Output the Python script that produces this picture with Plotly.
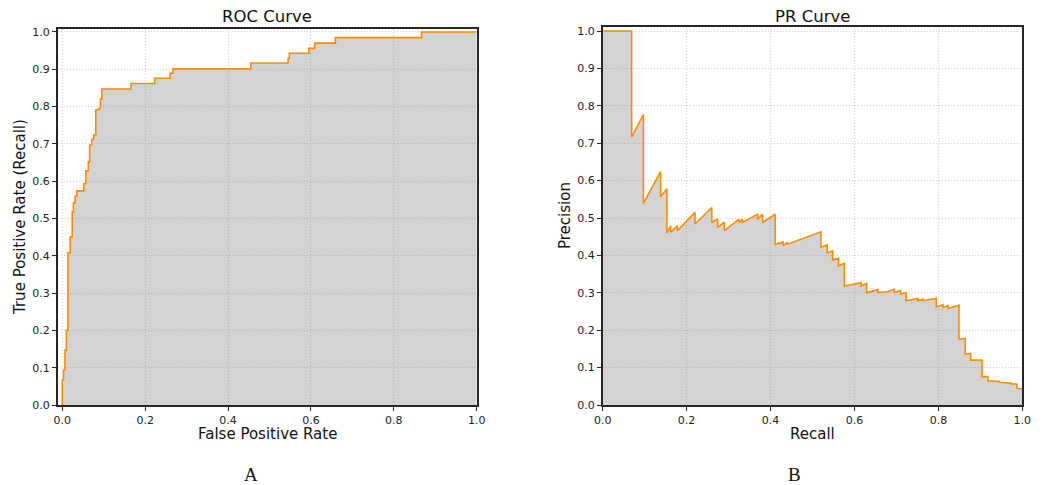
import plotly.graph_objects as go

W, H = 1046, 485

# ROC curve staircase corners (FPR, TPR)
roc_fpr = [0.0, 0.0, 0.003, 0.0065, 0.010, 0.0137, 0.0137, 0.019, 0.024, 0.027, 0.031, 0.035,
           0.052, 0.057, 0.063, 0.066, 0.071, 0.076, 0.081, 0.088, 0.092, 0.0955, 0.166,
           0.223, 0.260, 0.267, 0.455, 0.545, 0.548, 0.595, 0.609, 0.659, 0.867, 1.0]
roc_tpr = [0.0, 0.067, 0.094, 0.147, 0.20, 0.255, 0.408, 0.45, 0.518, 0.542, 0.56, 0.574,
           0.594, 0.628, 0.652, 0.697, 0.712, 0.724, 0.791, 0.795, 0.820, 0.847, 0.862,
           0.876, 0.889, 0.901, 0.917, 0.929, 0.943, 0.956, 0.970, 0.985, 1.0, 1.0]

# PR curve vertices (Recall, Precision)
pr_recall = [0.0, 0.069, 0.069, 0.097, 0.097, 0.138, 0.138, 0.153, 0.153, 0.162, 0.162,
             0.178, 0.178, 0.220, 0.220, 0.260, 0.260, 0.274, 0.274, 0.290, 0.290,
             0.325, 0.325, 0.333, 0.333, 0.369, 0.369, 0.381, 0.381, 0.411, 0.411,
             0.421, 0.421, 0.430, 0.430, 0.440, 0.440, 0.520, 0.520, 0.535, 0.535,
             0.548, 0.548, 0.562, 0.562, 0.576, 0.576, 0.616, 0.616, 0.629, 0.629,
             0.656, 0.656, 0.678, 0.695, 0.695, 0.710, 0.710, 0.723, 0.723, 0.751,
             0.751, 0.763, 0.763, 0.795, 0.795, 0.811, 0.811, 0.823, 0.823, 0.849,
             0.849, 0.864, 0.864, 0.877, 0.877, 0.904, 0.904, 0.918, 0.918, 0.946,
             0.946, 0.974, 0.974, 0.987, 0.987, 1.0]
pr_precision = [1.0, 1.0, 0.716, 0.777, 0.539, 0.624, 0.557, 0.578, 0.459, 0.479, 0.462,
                0.479, 0.466, 0.515, 0.484, 0.528, 0.488, 0.498, 0.475, 0.489, 0.466,
                0.497, 0.488, 0.497, 0.488, 0.510, 0.497, 0.510, 0.488, 0.510, 0.428,
                0.435, 0.430, 0.437, 0.426, 0.435, 0.430, 0.463, 0.422, 0.428, 0.407,
                0.412, 0.388, 0.392, 0.372, 0.379, 0.318, 0.327, 0.318, 0.325, 0.300,
                0.309, 0.301, 0.303, 0.310, 0.301, 0.306, 0.297, 0.300, 0.279, 0.285,
                0.279, 0.283, 0.279, 0.285, 0.263, 0.268, 0.261, 0.266, 0.258, 0.267,
                0.176, 0.178, 0.136, 0.138, 0.120, 0.120, 0.076, 0.076, 0.065, 0.063,
                0.061, 0.058, 0.056, 0.056, 0.045, 0.043]

x_ticks = [0.0, 0.2, 0.4, 0.6, 0.8, 1.0]
y_ticks = [0.0, 0.1, 0.2, 0.3, 0.4, 0.5, 0.6, 0.7, 0.8, 0.9, 1.0]

LINE = "#ff8c00"
FILL = "rgba(100,100,100,0.284)"
FONT = "DejaVu Sans"

fig = go.Figure()
fig.add_trace(go.Scatter(x=roc_fpr, y=roc_tpr, mode="lines", line=dict(color=LINE, width=1.6, shape="hv"),
                         fill="tozeroy", fillcolor=FILL, xaxis="x", yaxis="y", showlegend=False))
fig.add_trace(go.Scatter(x=pr_recall, y=pr_precision, mode="lines", line=dict(color=LINE, width=1.6),
                         fill="tozeroy", fillcolor=FILL, xaxis="x2", yaxis="y2", showlegend=False))


def px(x, y):
    return x / W, 1 - y / H


def axis(domain, rng, ticks, anchor):
    return dict(domain=domain, range=rng, tickvals=ticks, ticktext=[f"{t:.1f}" for t in ticks],
                showline=True, mirror=True, linecolor="#262626", linewidth=1.5,
                ticks="outside", ticklen=4, tickwidth=1, tickcolor="#262626",
                showgrid=True, gridcolor="#cfcfcf", griddash="1px,2px", gridwidth=1,
                zeroline=False, anchor=anchor, automargin=False,
                tickfont=dict(family=FONT, size=11, color="#222"))


fig.update_layout(
    width=W, height=H, margin=dict(l=0, r=0, t=0, b=0, autoexpand=False),
    paper_bgcolor="white", plot_bgcolor="white",
    xaxis=axis([57.7 / W, 476.7 / W], [-0.011, 1.0], x_ticks, "y"),
    yaxis=axis([1 - 405 / H, 1 - 29 / H], [0, 1.008], y_ticks, "x"),
    xaxis2=axis([602.7 / W, 1022.3 / W], [0, 1.0], x_ticks, "y2"),
    yaxis2=axis([1 - 405 / H, 1 - 27.3 / H], [0, 1.01], y_ticks, "x2"),
)

ann = []
def text(t, x, y, size, family=FONT, angle=0):
    ax, ay = px(x, y)
    ann.append(dict(text=t, x=ax, y=ay, xref="paper", yref="paper", showarrow=False,
                    xanchor="center", yanchor="middle", textangle=angle,
                    font=dict(family=family, size=size, color="#111")))

text("ROC Curve", 267, 17, 16.5)
text("PR Curve", 812.5, 17, 16.5)
text("False Positive Rate", 267, 434, 15)
text("Recall", 812.5, 434, 15)
text("True Positive Rate (Recall)", 20, 217, 15, angle=-90)
text("Precision", 565, 216, 15, angle=-90)
text("A", 251, 474, 19, family="Liberation Serif")
text("B", 794, 474, 19, family="Liberation Serif")
fig.update_layout(annotations=ann)

fig.write_html("out.html", config={"displayModeBar": False},
               post_script="document.body.style.margin='0';document.body.style.overflow='hidden';")
